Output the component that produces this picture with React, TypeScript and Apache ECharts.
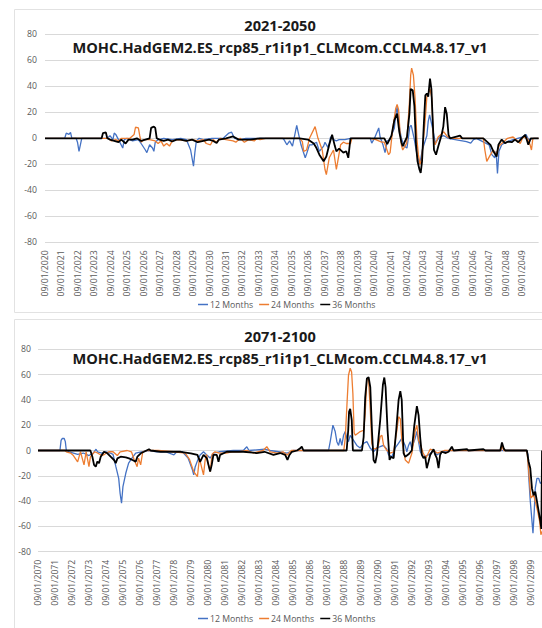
import React, { useEffect, useRef } from 'react';
import * as echarts from 'echarts';

const FONT = '"Open Sans", "Noto Sans", sans-serif';

const topTitle = '2021-2050';
const bottomTitle = '2071-2100';
const modelName = 'MOHC.HadGEM2.ES_rcp85_r1i1p1_CLMcom.CCLM4.8.17_v1';
const seriesNames = ['12 Months', '24 Months', '36 Months'];
const seriesColors = ['#4472C4', '#ED7D31', '#000000'];
const seriesWidths = [1.3, 1.3, 1.8];

const topYearLabels = [
  '09/01/2020', '09/01/2021', '09/01/2022', '09/01/2023', '09/01/2024', '09/01/2025',
  '09/01/2026', '09/01/2027', '09/01/2028', '09/01/2029', '09/01/2030', '09/01/2031',
  '09/01/2032', '09/01/2033', '09/01/2034', '09/01/2035', '09/01/2036', '09/01/2037',
  '09/01/2038', '09/01/2039', '09/01/2040', '09/01/2041', '09/01/2042', '09/01/2043',
  '09/01/2044', '09/01/2045', '09/01/2046', '09/01/2047', '09/01/2048', '09/01/2049',
];
const bottomYearLabels = [
  '09/01/2070', '09/01/2071', '09/01/2072', '09/01/2073', '09/01/2074', '09/01/2075',
  '09/01/2076', '09/01/2077', '09/01/2078', '09/01/2079', '09/01/2080', '09/01/2081',
  '09/01/2082', '09/01/2083', '09/01/2084', '09/01/2085', '09/01/2086', '09/01/2087',
  '09/01/2088', '09/01/2089', '09/01/2090', '09/01/2091', '09/01/2092', '09/01/2093',
  '09/01/2094', '09/01/2095', '09/01/2096', '09/01/2097', '09/01/2098', '09/01/2099',
];

// [month index since 09/2020, value]
const top12: [number, number][] = [
  [0, 0], [14.4, 0], [15.5, 4], [17.5, 3], [18.6, 4.5], [19.6, 0], [22.7, 0], [23.7, -3], [24.8, -10], [25.8, -5], [26.8, 0],
  [45.4, 0], [47.4, 2], [49.5, -1], [50.5, 4], [51.6, 3], [53.6, -1], [56.7, -7.5], [57.8, -1], [59.8, 0], [63.9, -2], [68.1, -1],
  [70.1, -4], [73.2, -9], [74.3, -11], [76.3, -5], [78.4, -7.5], [79.4, -10], [80.4, -3], [82.5, -1], [86.6, 0], [92.8, -1], [99, 0],
  [103.1, -1], [106.2, -9], [108.3, -21.5], [109.3, -11], [110.4, -2], [112.4, 0], [115.5, -1], [121.7, 0], [130, 0], [134.1, 4],
  [136.1, 4.7], [138.2, 0], [142.3, -1], [146.5, 0], [173.3, 0], [174.3, -1], [176.4, -5], [178.4, -2], [180.5, -6], [183.6, 10],
  [184.6, 5], [186.7, -5], [189.8, -15], [190.8, -12], [192.9, -5], [194.9, -5], [198, -3], [200.1, -10], [203.2, -6], [204.2, -3],
  [206.3, -7], [207.3, -4], [208.3, 1], [210.4, -1], [212.5, -2], [214.5, -1], [218.7, -1], [222.8, 0], [237.2, 0], [238.3, -3.7],
  [240.3, 0], [243.4, 8], [244.4, 1], [246.5, -5], [248, -11], [249.6, -2], [251.7, -1], [253.7, 5], [254.8, 8], [255.8, 18],
  [256.8, 24], [257.9, 12], [259.9, 0], [262, -6], [264, -7.5], [266.1, 9], [267.1, 10], [269.2, 0], [271.3, -12.6], [273.3, -20],
  [275.4, -8], [278.5, 2], [279.5, 13], [280.5, 18], [282.6, 8], [284.7, -3.7], [287.8, 1], [290.9, 2], [294, 0], [307.4, -2.5],
  [310.5, -3.7], [312.5, -1], [314.6, 0], [323.9, -5], [325.9, -12.6], [328, -15], [329, -10], [330, -27], [331.1, -10], [333.1, -5],
  [336.2, -3], [341.4, -1], [348.6, 1], [350.7, 3], [352.7, -1], [356.9, 0], [360, 0],
];
const top24: [number, number][] = [
  [0, 0], [46.4, 0], [48.5, -2], [51.6, -1], [53.6, -2], [55.7, 0], [61.9, 0], [65, 3], [66, 8.5], [68.1, 8], [69.1, 2], [70.1, -3],
  [72.2, -1], [76.3, -1], [80.4, -2], [82.5, -4], [84.6, -2], [86.6, -6], [88.7, -4], [90.8, -6], [92.8, -2], [97, -1], [103.1, -2],
  [107.3, -1], [111.4, -2], [115.5, -1], [117.6, -4], [120.7, -5], [122.7, -1], [124.8, -3], [127.9, 0], [132, -1], [137.2, -2],
  [139.2, -3], [142.3, 0], [145.4, -3], [148.5, -1], [152.6, -2], [154.7, 0], [156.8, -1], [160.9, 0], [185.7, 0], [187.7, -2.5],
  [188.7, -10], [190.8, -9], [192.9, 0], [197, 9], [199.1, 0], [202.2, -9], [204.2, -24], [205.2, -28], [207.3, -15], [210.4, -9],
  [212.5, -24], [213.5, -18], [215.6, -5], [217.6, -3], [219.7, -4], [222.8, -4], [223.8, 0], [237.2, 0], [241.3, -1], [245.5, -3],
  [247.5, -3], [250.6, -12.6], [251.7, -11], [253.7, 8], [255.8, 23], [256.8, 26], [257.9, 22], [258.9, 5], [259.9, -5], [260.9, -9],
  [263.8, -3.7], [265.8, 28], [266.7, 48.5], [267.4, 54], [268.7, 48.5], [269.9, 31], [271.2, 0], [272.3, -12.6], [273.5, -20],
  [274.8, -15], [277.2, 13], [278.5, 32], [279.6, 34.5], [280.8, 38], [282.1, 31], [283.3, 0], [284.5, -5], [286.7, 1], [288.8, 3],
  [290.9, 5], [292.9, 2], [295, 0], [319.7, 0], [320.8, -9], [322.2, -17.7], [324.9, -12.6], [327, -9], [329, -12.6], [331.1, -6],
  [334.2, -3], [337.3, 0], [341.4, 1], [343.5, -1], [346.6, -4], [348.6, 1], [351.7, 0], [353.8, -5], [354.8, -9], [355.8, 0], [360, 0],
];
const top36: [number, number][] = [
  [0, 0], [41.3, 0], [42.3, 4], [44.4, 4.5], [45.4, 0], [47.4, -1], [50.5, -2], [53.6, -3], [55.7, -1], [58.8, -4], [60.9, -1],
  [63.9, -1], [67, 0], [70.1, -2], [73.2, -1], [76.3, 0], [77.4, 8], [79.4, 9], [80.4, 8], [81.5, 0], [83.5, -1], [86.6, -2],
  [89.7, -1], [92.8, -2.5], [95.9, -1], [99, -1], [103.1, -2], [107.3, -1], [111.4, -3], [115.5, -2], [119.6, -1], [122.7, -2],
  [125.2, -3.7], [126.9, -1], [132, 0], [137.2, 1.4], [141.3, -1], [149.6, -1], [156.8, 0], [185.7, 0], [191.8, -1], [193.9, -2.5],
  [196, -4], [198, -7.5], [200.1, -12.6], [203.2, -17.7], [205.2, -14], [207.3, -5], [209.4, 2.7], [211.4, -6], [212.5, -10],
  [214.5, -8], [217.6, -11], [219.7, -10], [221.2, -15], [222.8, 0], [247.5, 0], [249.6, -4.5], [252.7, 2], [254.8, 14], [256.8, 19],
  [258.4, 5], [259.9, -3], [260.9, -6], [264, 1], [265.8, 19], [266.7, 38], [268.2, 37], [269.4, 25], [270.6, -5], [271.7, -17.7],
  [273.1, -24], [274, -26.7], [275, -17.7], [276.4, 13], [277.4, 33], [278.5, 34.5], [279.5, 32], [280.8, 46], [281.8, 38],
  [282.8, 13], [283.7, -9], [285.2, -12.6], [286.9, -6], [289.3, 2.7], [290.5, 9], [291.8, 24], [293, 19], [294.3, 2.7], [295.4, 0],
  [302.7, 2], [304.3, 0], [319.7, 0], [324.9, -5], [327, -10], [329.4, -14], [330.7, -5], [333.1, -1], [335.5, -3.7], [338, -2.5],
  [340.4, -3], [342.8, -1], [345.2, -3], [347.6, 0], [350.2, 2.7], [351.3, -1], [352.5, -5], [354.3, 0], [360, 0],
];

// [month index since 09/2070, value]
const bottom12: [number, number][] = [
  [0, 0], [15.5, 0], [16.3, 8], [17.2, 9.6], [18.5, 9.5], [19.3, 7], [20, 0], [22, -1], [25, -2], [28, -3], [32, -2], [36, -4],
  [39, -2], [41, 1], [42, -1], [45, -2], [48, -1], [51, -2], [53, -3], [55, -12.8], [57, -22], [58, -34], [59, -41.7], [60, -28.5],
  [62, -18], [64, -10], [67, -5], [69, -2], [73, -1], [78, 0], [84, -1], [90, -1], [96, -3.5], [98, -1], [102, -1], [106, -6],
  [109, -15], [110, -19.3], [111, -13], [113, -7], [114.5, -3.5], [116.9, -1], [119.2, -3.5], [121.6, -6], [123.9, -2], [128, -1],
  [138, 0], [145, 0], [147.5, 3], [149, 0], [160, 1], [164, 0], [170, -1], [176, -2], [180, 0], [205.2, 0], [206.4, 7], [208.3, 20],
  [209.9, 15], [211.1, 7], [212.3, 4], [213.4, 9.6], [214.6, 4], [215.8, 12], [217, 15], [218.2, 9.6], [219.3, 7], [220.5, 12],
  [222.9, 8], [225.2, 4], [227.6, 2], [229.9, 5.6], [232.3, 7], [234.6, 2], [237, -1], [239.3, 2], [241.7, 3], [244, 4], [246.4, 1],
  [247.6, -3.5], [250, -5], [252.3, 2], [254.6, 5.6], [257, 9.6], [259.3, 4], [260.5, -1], [261.7, 4], [262.9, 7], [264, 2],
  [266.4, 9.6], [267.6, 15], [268.8, 7], [270, -1], [272.3, -5], [275.8, -3.5], [279.4, 0], [281.7, -3.5], [285.2, -1], [291, 0],
  [345, 0], [346, -3], [346.5, -19], [347.7, -40], [348.9, -56], [349.6, -65.4], [350.5, -48], [351.2, -30], [352.4, -22],
  [353.6, -22], [354.8, -26], [356, -25],
];
const bottom24: [number, number][] = [
  [0, 0], [19, 0], [20, -1], [23, -2], [25, -4], [28, -9], [30, -1], [32.5, -11.4], [34, -1], [36, -12.8], [37, -5], [40, -1],
  [42, -2], [45, -4], [47, -3], [50, -1], [53, -1], [56, -4], [58, -1], [63, 0], [66, -1], [68, -7.5], [70, -12.8], [71, -6],
  [72.5, -11.4], [74, -1], [77, 0], [85, 0], [96, -1], [104, -2], [107, -7], [110, -16.7], [112.6, -20.6], [114, -6], [115.7, -14],
  [116.9, -19.3], [118, -8], [119, -3], [120.4, -11.4], [121.6, -16.7], [123, -3], [125, -1], [128, -2], [133, -2], [137, -1],
  [142, -1], [148, 0], [152, -2], [155, -1], [159, 0], [161.6, 3], [164, -1], [169, -2], [173, -1], [176, -3.5], [179, 0], [184, 0],
  [216, 0], [217, 9.6], [218.2, 36], [219.3, 59.5], [220.5, 65], [221.5, 62], [222.4, 45], [223.3, 14], [224.1, 12], [227.6, 15],
  [230, 16], [231.1, 29], [232.3, 57], [233.5, 55.6], [234.7, 32], [235.8, 5.6], [237, 1], [240, 2], [241.7, 11], [242.9, 12],
  [244.1, 4], [246.4, 0], [248.8, -2], [251.2, -1], [253.5, 16], [254.7, 26.7], [255.9, 25], [257, 8], [259.4, -7.5], [261.8, -10],
  [264.1, -2], [266.5, 16], [267.6, 20], [268.8, 8], [270, 5], [272, -2], [274, -6], [277, 1], [279.5, 0], [282, -2], [287, 0],
  [327, 0], [327.7, 4], [329, 0], [345, 0], [345.5, -2], [347.2, -24.5], [348.1, -37.6], [350, -35], [351.2, -40], [352.9, -48],
  [354.3, -56], [355.2, -66.6], [356, -64],
];
const bottom36: [number, number][] = [
  [0, 0], [37, 0], [38.4, -4.9], [39.6, -11.4], [40.8, -12.8], [41.9, -8.8], [43.1, -10], [44.3, -4.9], [46.6, -1], [49, -2.2],
  [51.3, -4.9], [53.7, -7.5], [54.9, -10], [56.1, -6.2], [58.4, -4.9], [62, -5.4], [64.3, -6.2], [66.7, -7.5], [69, -8.8],
  [70.2, -4.9], [72.6, -2.2], [74.9, -1], [77.3, 0.4], [78.4, 1], [79.6, 0], [86.7, -1], [96.1, -1], [100.8, -1], [107.9, -2.2],
  [112.6, -3.5], [114.5, -9], [116.9, -3.5], [119.2, -6], [121.6, -16.7], [122.7, -11.4], [123.9, -3.5], [126.3, -3.5], [127.5, -9],
  [128.6, -3.5], [133.3, -1], [145, -1], [154.5, -2], [160, -1], [166.3, -3.5], [171, -2], [174.6, -3.5], [176.2, -7.5],
  [177.6, -3.5], [179.3, -1], [183, 0], [185.2, 1.7], [186.3, 3], [187.5, 0], [218, 0], [219.1, 16], [219.7, 30.6], [220.5, 33],
  [221.6, 24], [222.2, 5], [222.4, 0], [228.8, 0], [230, 10.5], [231.1, 42], [232.3, 57], [233.5, 58], [234.7, 50], [235.9, 15],
  [237, -7.5], [238.2, -10], [239.4, -3], [241.7, 24], [243.6, 52], [244.6, 57.7], [245.5, 50], [246.9, 16], [248.3, -7.5],
  [249.3, -5], [251.2, -6], [253, 16], [254.7, 40], [255.9, 47], [256.9, 40], [258.2, -2], [259.4, -5], [261.7, -3], [264, 0],
  [265.7, 19], [267.6, 35], [268.8, 28], [270, 9.6], [271.1, -3.5], [272.3, -6], [273.5, -5], [274.6, -14], [275.8, -9], [277, -3.5],
  [279.4, 1], [280.6, -3.5], [281.7, -6], [282.9, -14], [284, -3.5], [285.2, -1], [288, -2], [290, -1], [292.3, 3], [293.5, 0],
  [303, 1], [304, 0], [314.6, 1], [316, 0], [326.5, 0], [327.7, 6.4], [328.9, 1.7], [330, 0], [345.3, 0], [346.5, -8.7],
  [347.7, -14], [348.9, -30], [350, -35.4], [351.2, -32.5], [352.4, -40], [353.6, -48], [354.8, -56], [355.5, -62], [356, 0],
];

const topSeries = [top12, top24, top36];
const bottomSeries = [bottom12, bottom24, bottom36];

const LABEL_COLOR = '#595959';

function xAxis(gridIndex: number, labels: string[]) {
  return {
    type: 'value',
    gridIndex,
    min: 0,
    max: 360,
    interval: 12,
    axisLine: { show: false },
    axisTick: { show: false },
    splitLine: { show: false },
    axisLabel: {
      rotate: 90,
      margin: 8,
      fontSize: 8.7,
      color: LABEL_COLOR,
      fontFamily: FONT,
      formatter: (v: number) => labels[Math.round(v / 12)] ?? '',
    },
  };
}

function yAxis(gridIndex: number, margin: number) {
  return {
    type: 'value',
    gridIndex,
    min: -80,
    max: 80,
    interval: 20,
    axisLine: { show: false },
    axisTick: { show: false },
    splitLine: { lineStyle: { color: '#d9d9d9', width: 1 } },
    axisLabel: { fontSize: 8.7, color: LABEL_COLOR, fontFamily: FONT, margin },
  };
}

function legend(top: number) {
  return {
    data: seriesNames,
    left: 193,
    top,
    icon: 'rect',
    itemWidth: 10,
    itemHeight: 1.5,
    itemGap: 6,
    selectedMode: false,
    textStyle: { fontSize: 8.7, color: LABEL_COLOR, fontFamily: FONT, padding: [0, 0, 0, -3] },
  };
}

export default function App() {
  const ref = useRef<HTMLDivElement>(null);

  useEffect(() => {
    if (!ref.current) return;
    const chart = echarts.init(ref.current, undefined, { renderer: 'svg' });
    const series: any[] = [];
    [topSeries, bottomSeries].forEach((group, gi) => {
      group.forEach((data, si) => {
        series.push({
          type: 'line',
          name: seriesNames[si],
          xAxisIndex: gi,
          yAxisIndex: gi,
          data,
          showSymbol: false,
          symbol: 'none',
          color: seriesColors[si],
          lineStyle: { color: seriesColors[si], width: seriesWidths[si] },
          z: 2 + si,
        });
      });
    });

    const titleFont = `bold 14.6px ${FONT}`;
    const cx = 280;
    chart.setOption({
      animation: false,
      backgroundColor: '#ffffff',
      textStyle: { fontFamily: FONT },
      grid: [
        { left: 45, top: 34.3, width: 493.6, height: 208 },
        { left: 38, top: 349.3, width: 509.7, height: 202.4 },
      ],
      xAxis: [xAxis(0, topYearLabels), xAxis(1, bottomYearLabels)],
      yAxis: [yAxis(0, 8), yAxis(1, 7)],
      legend: [legend(295), legend(609)],
      graphic: [
        { type: 'rect', silent: true, shape: { x: 14.5, y: 9.5, width: 600, height: 303 }, style: { fill: 'none', stroke: '#e2e2e2', lineWidth: 1 } },
        { type: 'rect', silent: true, shape: { x: 14.5, y: 319.5, width: 600, height: 330 }, style: { fill: 'none', stroke: '#e2e2e2', lineWidth: 1 } },
        { type: 'text', silent: true, x: cx, y: 25, style: { text: topTitle, font: titleFont, fill: '#1a1a1a', textAlign: 'center', textVerticalAlign: 'middle' } },
        { type: 'text', silent: true, x: cx, y: 46.5, style: { text: modelName, font: titleFont, fill: '#1a1a1a', textAlign: 'center', textVerticalAlign: 'middle' } },
        { type: 'text', silent: true, x: cx, y: 336, style: { text: bottomTitle, font: titleFont, fill: '#1a1a1a', textAlign: 'center', textVerticalAlign: 'middle' } },
        { type: 'text', silent: true, x: cx, y: 357.5, style: { text: modelName, font: titleFont, fill: '#1a1a1a', textAlign: 'center', textVerticalAlign: 'middle' } },
      ],
      series,
    });
    return () => chart.dispose();
  }, []);

  return (
    <div style={{ position: 'fixed', left: 0, top: 0, width: 542, height: 628, overflow: 'hidden', background: '#fff' }}>
      <div ref={ref} style={{ width: 560, height: 628 }} />
    </div>
  );
}
